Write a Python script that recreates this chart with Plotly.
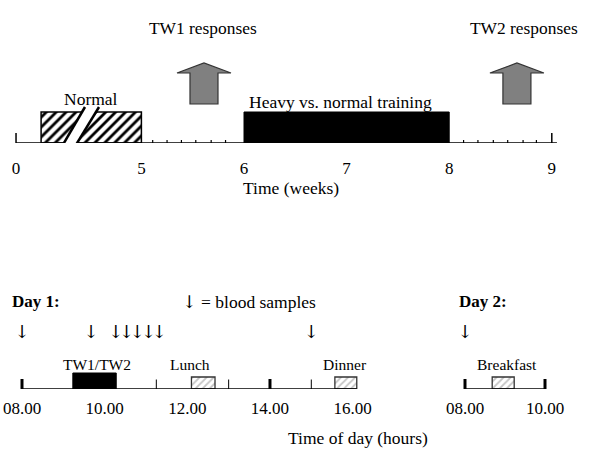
import plotly.graph_objects as go

FONT = "Liberation Serif, Times New Roman, serif"
ARROW_FONT = "DejaVu Serif, DejaVu Sans, serif"

# ---------------- data: study timeline (weeks) ----------------
week_ticks = [0, 5, 6, 7, 8, 9]
week_tick_labels = ["0", "5", "6", "7", "8", "9"]
week_minor_a = [5.11, 5.25, 5.39, 5.53, 5.68, 5.82]
week_minor_b = [8.14, 8.28, 8.43, 8.57, 8.72, 8.85]
week_axis_end = 9.05
periods = ["Normal", "Heavy vs. normal training"]
period_start = [1, 6]
period_end = [5, 8]
response_labels = ["TW1 responses", "TW2 responses"]
response_weeks = [5.61, 8.66]
response_label_weeks = [5.60, 8.73]
break_weeks = [(1.83, 2.75), (2.35, 3.31)]  # axis break slashes (bottom, top)

# ---------------- data: test days (time of day, hours) ----------------
day1_ticks = [8, 10, 12, 14, 16]
day1_tick_labels = ["08.00", "10.00", "12.00", "14.00", "16.00"]
day1_axis_end = 16.1
day1_major_marks = [8, 14]
day1_minor_marks = [11.25, 13.0, 15.0]
day1_samples = [8.0, 9.67, 10.27, 10.53, 10.79, 11.06, 11.32, 15.0]
day1_events = ["TW1/TW2", "Lunch", "Dinner"]
day1_event_start = [9.23, 12.1, 15.57]
day1_event_end = [10.28, 12.67, 16.1]
day1_event_label_x = [9.82, 12.07, 15.81]

day2_ticks = [8, 10]
day2_tick_labels = ["08.00", "10.00"]
day2_major_marks = [8, 10]
day2_samples = [8.0]
day2_events = ["Breakfast"]
day2_event_start = [8.68]
day2_event_end = [9.23]
day2_event_label_x = [9.04]

# ---------------- broken week scale (0-5 compressed) ----------------
K = 0.2444


def u(w):
    return w if w >= 5 else 5 - (5 - w) * K


fig = go.Figure()

# top boxes
fig.add_trace(go.Bar(
    orientation="h", x=[u(period_end[0]) - u(period_start[0])], base=[u(period_start[0])],
    y=[15.5], width=[31], xaxis="x", yaxis="y",
    marker=dict(color="white", line=dict(color="black", width=1.5),
                pattern=dict(shape="/", fgcolor="black", bgcolor="white", size=7, solidity=0.4,
                             fgopacity=1)),
    hoverinfo="skip", showlegend=False))
fig.add_trace(go.Bar(
    orientation="h", x=[u(period_end[1]) - u(period_start[1])], base=[u(period_start[1])],
    y=[15.5], width=[31], xaxis="x", yaxis="y",
    marker=dict(color="black", line=dict(color="black", width=1)),
    hoverinfo="skip", showlegend=False))

light_hatch = dict(color="white", line=dict(color="#333", width=1.3),
                   pattern=dict(shape="/", fgcolor="#8a8a8a", bgcolor="white", size=5, solidity=0.35))

# bottom boxes day 1
for name, s, e in zip(day1_events, day1_event_start, day1_event_end):
    if name == "TW1/TW2":
        fig.add_trace(go.Bar(orientation="h", x=[e - s], base=[s], y=[8], width=[16],
                             xaxis="x2", yaxis="y2",
                             marker=dict(color="black", line=dict(color="black", width=1)),
                             hoverinfo="skip", showlegend=False))
    else:
        fig.add_trace(go.Bar(orientation="h", x=[e - s], base=[s], y=[6], width=[12],
                             xaxis="x2", yaxis="y2", marker=light_hatch,
                             hoverinfo="skip", showlegend=False))
for name, s, e in zip(day2_events, day2_event_start, day2_event_end):
    fig.add_trace(go.Bar(orientation="h", x=[e - s], base=[s], y=[6], width=[12],
                         xaxis="x3", yaxis="y2", marker=light_hatch,
                         hoverinfo="skip", showlegend=False))

# blood sample arrows
fig.add_trace(go.Scatter(x=day1_samples, y=[56] * len(day1_samples), mode="text",
                         text=["↓"] * len(day1_samples), xaxis="x2", yaxis="y2",
                         textfont=dict(family=ARROW_FONT, size=18, color="black"),
                         hoverinfo="skip", showlegend=False))
fig.add_trace(go.Scatter(x=day2_samples, y=[56] * len(day2_samples), mode="text",
                         text=["↓"] * len(day2_samples), xaxis="x3", yaxis="y2",
                         textfont=dict(family=ARROW_FONT, size=18, color="black"),
                         hoverinfo="skip", showlegend=False))

shapes = []
# top axis line and ticks
shapes.append(dict(type="line", xref="x", yref="y", x0=u(0), x1=u(week_axis_end), y0=0, y1=0,
                   line=dict(color="black", width=1.5), layer="above"))
for w in week_ticks:
    if w in (0, 9):
        y0, y1 = -8, 10
    else:
        y0, y1 = -8, 0
    shapes.append(dict(type="line", xref="x", yref="y", x0=u(w), x1=u(w), y0=y0, y1=y1,
                       line=dict(color="black", width=1.5), layer="above"))
for w in week_minor_a + week_minor_b:
    shapes.append(dict(type="line", xref="x", yref="y", x0=u(w), x1=u(w), y0=-5, y1=3,
                       line=dict(color="black", width=1.2), layer="above"))
# axis break
(b1, t1), (b2, t2) = break_weeks
shapes.append(dict(type="path", xref="x", yref="y",
                   path=f"M {u(b1)},-3 L {u(t1)},36 L {u(t2)},36 L {u(b2)},-4 Z",
                   fillcolor="white", line=dict(width=0), layer="above"))
for b, t in break_weeks:
    shapes.append(dict(type="line", xref="x", yref="y", x0=u(b), x1=u(t), y0=-3.5, y1=36,
                       line=dict(color="black", width=2.5), layer="above"))
# block arrows
sw, hw = 14 / 102.6, 27 / 102.6
for c in response_weeks:
    path = (f"M {c - sw},39 L {c - sw},70 L {c - hw},70 L {c},80 L {c + hw},70 "
            f"L {c + sw},70 L {c + sw},39 Z")
    shapes.append(dict(type="path", xref="x", yref="y", path=path, fillcolor="#808080",
                       line=dict(color="#333", width=1.2), layer="above"))

# bottom axis lines
shapes.append(dict(type="line", xref="x2", yref="y2", x0=day1_ticks[0], x1=day1_axis_end, y0=0, y1=0,
                   line=dict(color="black", width=1.5), layer="above"))
shapes.append(dict(type="line", xref="x3", yref="y2", x0=day2_ticks[0], x1=day2_ticks[-1], y0=0, y1=0,
                   line=dict(color="black", width=1.5), layer="above"))
for h in day1_major_marks:
    shapes.append(dict(type="line", xref="x2", yref="y2", x0=h, x1=h, y0=-1.5, y1=10,
                       line=dict(color="black", width=3), layer="above"))
for h in day1_minor_marks:
    shapes.append(dict(type="line", xref="x2", yref="y2", x0=h, x1=h, y0=0, y1=9.5,
                       line=dict(color="black", width=1), layer="above"))
for h in day2_major_marks:
    shapes.append(dict(type="line", xref="x3", yref="y2", x0=h, x1=h, y0=-1.5, y1=10,
                       line=dict(color="black", width=3), layer="above"))

annotations = []


def ann(text, x, y, xref, yref, size, bold=False, xanchor="center"):
    annotations.append(dict(text=f"<b>{text}</b>" if bold else text, x=x, y=y, xref=xref, yref=yref,
                            showarrow=False, xanchor=xanchor, yanchor="middle",
                            font=dict(family=FONT, size=size, color="black")))


for lab, w in zip(response_labels, response_label_weeks):
    ann(lab, w, 115, "x", "y", 17.4)
ann(periods[0], (u(period_start[0]) + u(period_end[0])) / 2, 44, "x", "y", 17.5)
ann(periods[1], (period_start[1] + period_end[1]) / 2 - 0.06, 41, "x", "y", 17.5)
ann("Time (weeks)", 291 / 600, 1 - 188 / 470, "paper", "paper", 17.5)

for lab, x in zip(day1_events, day1_event_label_x):
    ann(lab, x, 25, "x2", "y2", 15.5)
for lab, x in zip(day2_events, day2_event_label_x):
    ann(lab, x, 25, "x3", "y2", 15.5)
ann("Day 1:", 10 / 600, 87.5, "paper", "y2", 17, bold=True, xanchor="left")
ann(f"<span style='font-family:{ARROW_FONT}'>↓</span> = blood samples", 180 / 600, 87.5,
    "paper", "y2", 17.5, xanchor="left")
ann("Day 2:", 457 / 600, 87.5, "paper", "y2", 17, bold=True, xanchor="left")
ann("Time of day (hours)", 358 / 600, 1 - 438 / 470, "paper", "paper", 17.5)

hidden_y = dict(showgrid=False, zeroline=False, showticklabels=False, showline=False, ticks="",
                fixedrange=True)

fig.update_layout(
    width=600, height=470, autosize=False,
    margin=dict(l=0, r=0, t=0, b=0),
    paper_bgcolor="white", plot_bgcolor="white",
    barmode="overlay", showlegend=False,
    font=dict(family=FONT, color="black"),
    shapes=shapes, annotations=annotations,
    xaxis=dict(domain=[0, 1], range=[3.6218, 3.6218 + 600 / 102.6], anchor="y",
               tickmode="array", tickvals=[u(w) for w in week_ticks], ticktext=week_tick_labels,
               ticks="outside", ticklen=10, tickcolor="rgba(0,0,0,0)",
               tickfont=dict(family=FONT, size=17, color="black"),
               showgrid=False, zeroline=False, showline=False, fixedrange=True),
    yaxis=dict(domain=[1 - 143 / 470, 1], range=[0, 143], anchor="x", **hidden_y),
    xaxis2=dict(domain=[0, 1], range=[8 - 22 / 41.33, 8 - 22 / 41.33 + 600 / 41.33], anchor="y2",
                tickmode="array", tickvals=day1_ticks, ticktext=day1_tick_labels,
                ticks="outside", ticklen=4, tickcolor="rgba(0,0,0,0)",
                tickfont=dict(family=FONT, size=17, color="black"),
                showgrid=False, zeroline=False, showline=False, fixedrange=True),
    xaxis3=dict(domain=[0, 1], range=[8 - 465 / 40, 8 - 465 / 40 + 600 / 40], anchor="y2",
                overlaying="x2",
                tickmode="array", tickvals=day2_ticks, ticktext=day2_tick_labels,
                ticks="outside", ticklen=4, tickcolor="rgba(0,0,0,0)",
                tickfont=dict(family=FONT, size=17, color="black"),
                showgrid=False, zeroline=False, showline=False, fixedrange=True),
    yaxis2=dict(domain=[1 - 389 / 470, 1 - 280 / 470], range=[0, 109], anchor="x2", **hidden_y),
)

fig.write_html("out.html", config={"displayModeBar": False},
               post_script="document.body.style.margin='0';")
